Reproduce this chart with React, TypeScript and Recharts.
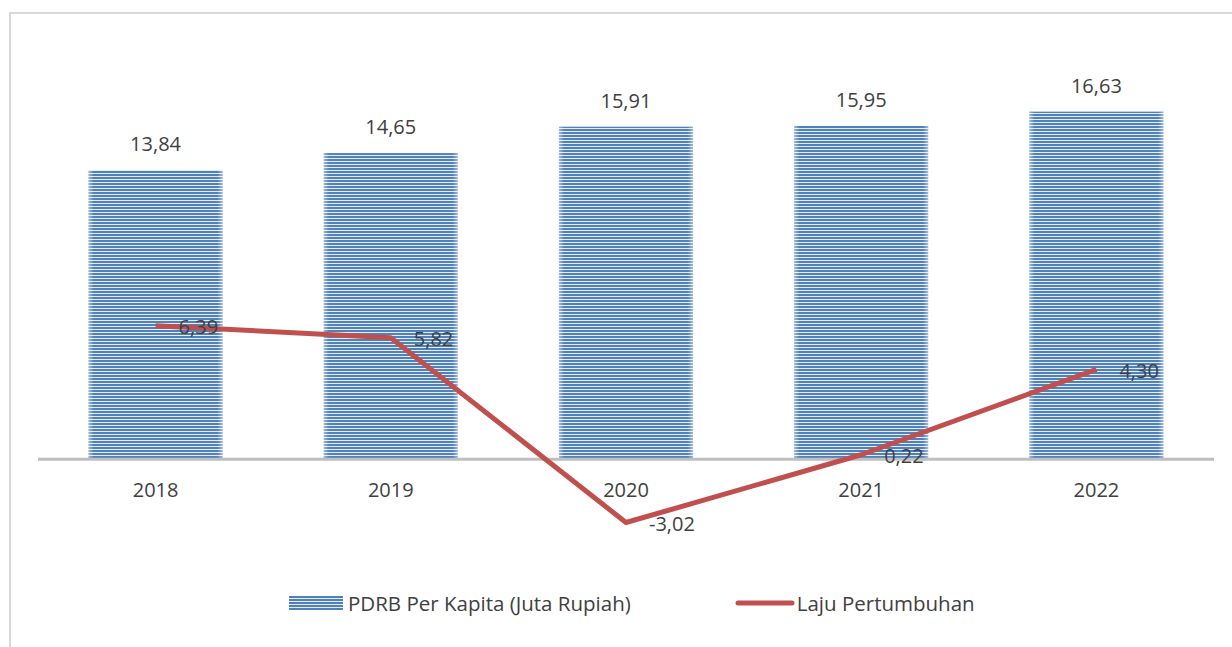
import React from 'react';
import {
  Bar,
  ComposedChart,
  LabelList,
  Line,
  ReferenceLine,
  XAxis,
  YAxis,
} from 'recharts';

const years = ['2018', '2019', '2020', '2021', '2022'];
const pdrbPerKapita = [13.84, 14.65, 15.91, 15.95, 16.63];
const lajuPertumbuhan = [6.39, 5.82, -3.02, 0.22, 4.3];

const data = years.map((year, i) => ({
  year,
  pdrb: pdrbPerKapita[i],
  laju: lajuPertumbuhan[i],
}));

const FONT = '"Open Sans", sans-serif';
const TEXT = '#404040';
const BLUE = '#4f81bd';
const RED = '#c0504d';

const fmt = (v: number) => v.toFixed(2).replace('.', ',');

const StripedBar = (props: any) => {
  const { x, y, width, height } = props;
  if (!width || !height) return null;
  return (
    <g>
      <rect x={x} y={y} width={width} height={height} fill="url(#stripes)" />
      <rect x={x} y={y} width={width} height={height} fill="url(#edgeShade)" />
    </g>
  );
};

const LineLabel = (props: any) => {
  const { x, y, value } = props;
  return (
    <text
      x={x + 23}
      y={y + 1}
      dominantBaseline="central"
      fill={TEXT}
      fontSize={20}
      fontFamily={FONT}
    >
      {fmt(value)}
    </text>
  );
};

const YearTick = (props: any) => {
  const { x, payload } = props;
  return (
    <text x={x} y={497} textAnchor="middle" fill={TEXT} fontSize={20} fontFamily={FONT}>
      {payload.value}
    </text>
  );
};

const ChartLegend = () => (
  <div
    style={{
      position: 'absolute',
      left: 0,
      top: 589,
      width: 1232,
      display: 'flex',
      alignItems: 'center',
      fontFamily: FONT,
      fontSize: 20.5,
      color: TEXT,
      height: 28,
    }}
  >
    <svg width={54} height={14} style={{ marginLeft: 289, marginRight: 5 }}>
      <defs>
        <pattern id="legendStripes" width={4} height={3} patternUnits="userSpaceOnUse">
          <rect x={0} y={0} width={4} height={3} fill="#e6edf6" />
          <rect x={0} y={0} width={4} height={2} fill={BLUE} />
        </pattern>
      </defs>
      <rect x={0} y={0} width={54} height={14} fill="url(#legendStripes)" />
    </svg>
    <span>PDRB Per Kapita (Juta Rupiah)</span>
    <svg width={60} height={8} style={{ marginLeft: 104, marginRight: 2 }}>
      <line x1={3} y1={4} x2={57} y2={4} stroke={RED} strokeWidth={5} strokeLinecap="round" />
    </svg>
    <span>Laju Pertumbuhan</span>
  </div>
);

export default function App() {
  return (
    <div
      style={{
        position: 'absolute',
        left: 0,
        top: 0,
        width: 1232,
        height: 647,
        background: '#fff',
        overflow: 'hidden',
      }}
    >
      <div
        style={{
          position: 'absolute',
          left: 9,
          top: 12,
          width: 1240,
          height: 660,
          borderLeft: '2px solid #d9d9d9',
          borderTop: '2px solid #d9d9d9',
        }}
      />
      <ComposedChart
        width={1232}
        height={647}
        data={data}
        margin={{ top: 83, right: 18, left: 38, bottom: 74 }}
        barCategoryGap="21.5%"
        style={{ position: 'absolute', left: 0, top: 0 }}
      >
        <defs>
          <pattern id="stripes" width={4} height={3} patternUnits="userSpaceOnUse">
            <rect x={0} y={0} width={4} height={3} fill="#e6edf6" />
            <rect x={0} y={0} width={4} height={2} fill={BLUE} />
          </pattern>
          <linearGradient id="edgeShade" x1="0" y1="0" x2="1" y2="0">
            <stop offset="0" stopColor="#ffffff" stopOpacity={0.45} />
            <stop offset="0.04" stopColor="#ffffff" stopOpacity={0} />
            <stop offset="0.96" stopColor="#ffffff" stopOpacity={0} />
            <stop offset="1" stopColor="#ffffff" stopOpacity={0.45} />
          </linearGradient>
        </defs>
        <XAxis
          dataKey="year"
          axisLine={false}
          tickLine={false}
          tick={<YearTick />}
          interval={0}
          height={30}
        />
        <YAxis hide domain={[-4, 18]} />
        <Bar dataKey="pdrb" shape={<StripedBar />} isAnimationActive={false}>
          <LabelList
            dataKey="pdrb"
            position="top"
            offset={19}
            formatter={(v: any) => fmt(Number(v))}
            fill={TEXT}
            fontSize={20}
            fontFamily={FONT}
          />
        </Bar>
        <ReferenceLine y={0} stroke="#bfbfbf" strokeWidth={3} />
        <Line
          dataKey="laju"
          stroke={RED}
          strokeWidth={5}
          dot={false}
          activeDot={false}
          strokeLinejoin="round"
          isAnimationActive={false}
        >
          <LabelList dataKey="laju" content={<LineLabel />} />
        </Line>
      </ComposedChart>
      <ChartLegend />
    </div>
  );
}
